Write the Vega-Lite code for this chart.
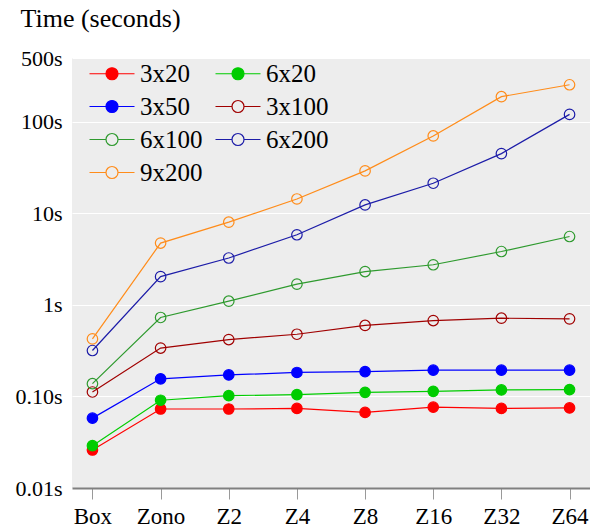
{
  "$schema": "https://vega.github.io/schema/vega-lite/v6.json",
  "width": 518,
  "height": 430,
  "autosize": "none",
  "padding": {"left": 72, "top": 58, "right": 0, "bottom": 43},
  "background": "white",
  "data": {
    "values": [
      {"config": "Box", "series": "3x20", "time": 0.026},
      {"config": "Zono", "series": "3x20", "time": 0.073},
      {"config": "Z2", "series": "3x20", "time": 0.073},
      {"config": "Z4", "series": "3x20", "time": 0.074},
      {"config": "Z8", "series": "3x20", "time": 0.067},
      {"config": "Z16", "series": "3x20", "time": 0.0765},
      {"config": "Z32", "series": "3x20", "time": 0.074},
      {"config": "Z64", "series": "3x20", "time": 0.075},
      {"config": "Box", "series": "6x20", "time": 0.029},
      {"config": "Zono", "series": "6x20", "time": 0.091},
      {"config": "Z2", "series": "6x20", "time": 0.102},
      {"config": "Z4", "series": "6x20", "time": 0.105},
      {"config": "Z8", "series": "6x20", "time": 0.111},
      {"config": "Z16", "series": "6x20", "time": 0.114},
      {"config": "Z32", "series": "6x20", "time": 0.118},
      {"config": "Z64", "series": "6x20", "time": 0.119},
      {"config": "Box", "series": "3x50", "time": 0.058},
      {"config": "Zono", "series": "3x50", "time": 0.156},
      {"config": "Z2", "series": "3x50", "time": 0.172},
      {"config": "Z4", "series": "3x50", "time": 0.183},
      {"config": "Z8", "series": "3x50", "time": 0.187},
      {"config": "Z16", "series": "3x50", "time": 0.194},
      {"config": "Z32", "series": "3x50", "time": 0.194},
      {"config": "Z64", "series": "3x50", "time": 0.194},
      {"config": "Box", "series": "3x100", "time": 0.112},
      {"config": "Zono", "series": "3x100", "time": 0.338},
      {"config": "Z2", "series": "3x100", "time": 0.419},
      {"config": "Z4", "series": "3x100", "time": 0.479},
      {"config": "Z8", "series": "3x100", "time": 0.598},
      {"config": "Z16", "series": "3x100", "time": 0.676},
      {"config": "Z32", "series": "3x100", "time": 0.717},
      {"config": "Z64", "series": "3x100", "time": 0.705},
      {"config": "Box", "series": "6x100", "time": 0.138},
      {"config": "Zono", "series": "6x100", "time": 0.73},
      {"config": "Z2", "series": "6x100", "time": 1.1},
      {"config": "Z4", "series": "6x100", "time": 1.69},
      {"config": "Z8", "series": "6x100", "time": 2.32},
      {"config": "Z16", "series": "6x100", "time": 2.75},
      {"config": "Z32", "series": "6x100", "time": 3.84},
      {"config": "Z64", "series": "6x100", "time": 5.6},
      {"config": "Box", "series": "6x200", "time": 0.318},
      {"config": "Zono", "series": "6x200", "time": 2.04},
      {"config": "Z2", "series": "6x200", "time": 3.26},
      {"config": "Z4", "series": "6x200", "time": 5.85},
      {"config": "Z8", "series": "6x200", "time": 12.4},
      {"config": "Z16", "series": "6x200", "time": 21.4},
      {"config": "Z32", "series": "6x200", "time": 45.1},
      {"config": "Z64", "series": "6x200", "time": 121},
      {"config": "Box", "series": "9x200", "time": 0.426},
      {"config": "Zono", "series": "9x200", "time": 4.75},
      {"config": "Z2", "series": "9x200", "time": 8.03},
      {"config": "Z4", "series": "9x200", "time": 14.4},
      {"config": "Z8", "series": "9x200", "time": 29.2},
      {"config": "Z16", "series": "9x200", "time": 70.3},
      {"config": "Z32", "series": "9x200", "time": 189},
      {"config": "Z64", "series": "9x200", "time": 255}
    ]
  },
  "encoding": {
    "x": {
      "field": "config",
      "type": "ordinal",
      "sort": ["Box", "Zono", "Z2", "Z4", "Z8", "Z16", "Z32", "Z64"],
      "scale": {"type": "point", "padding": 0.3},
      "title": null,
      "axis": {
        "labelAngle": 0,
        "labelFontSize": 23,
        "labelPadding": 6,
        "domainColor": "#808080",
        "domainWidth": 2,
        "tickColor": "#999999",
        "tickSize": 11,
        "tickWidth": 1,
        "grid": false
      }
    },
    "y": {
      "field": "time",
      "type": "quantitative",
      "scale": {"type": "log", "domain": [0.01, 500]},
      "title": "Time (seconds)",
      "axis": {
        "values": [0.01, 0.1, 1, 10, 100, 500],
        "labelExpr": "datum.value < 0.05 ? '0.01s' : datum.value < 0.5 ? '0.10s' : format(datum.value, 'd') + 's'",
        "labelFontSize": 22,
        "labelPadding": 10,
        "domain": false,
        "ticks": false,
        "grid": true,
        "gridColor": "white",
        "gridWidth": 1,
        "titleAngle": 0,
        "titleAlign": "left",
        "titleBaseline": "alphabetic",
        "titleX": -52,
        "titleY": -32,
        "titleFontSize": 26,
        "titleFontWeight": "normal",
        "titleColor": "black"
      }
    },
    "stroke": {
      "field": "series",
      "type": "nominal",
      "scale": {
        "domain": ["3x20", "3x50", "6x100", "9x200", "6x20", "3x100", "6x200"],
        "range": ["#FF0000", "#0000FF", "#2E9A2E", "#FF8C1A", "#00CC00", "#A00000", "#1C1CA8"]
      },
      "legend": {
        "title": null,
        "orient": "none",
        "legendX": 15,
        "legendY": 3,
        "columns": 2,
        "symbolType": "M-1,0H0.65M1.85,0H3.5M0.65,0A0.6,0.6 0 1,1 1.85,0A0.6,0.6 0 1,1 0.65,0",
        "symbolSize": 400,
        "symbolStrokeWidth": 1.2,
        "labelOffset": 28,
        "labelFontSize": 25,
        "columnPadding": 10,
        "rowPadding": 7
      }
    }
  },
  "layer": [
    {
      "mark": {"type": "line", "strokeWidth": 1.2},
      "encoding": {"detail": {"field": "series"}}
    },
    {
      "mark": {"type": "point", "filled": false, "size": 110, "strokeWidth": 1.2, "opacity": 1},
      "encoding": {
        "fill": {
          "field": "series",
          "type": "nominal",
          "scale": {
            "domain": ["3x20", "3x50", "6x100", "9x200", "6x20", "3x100", "6x200"],
            "range": ["#FF0000", "#0000FF", "transparent", "transparent", "#00CC00", "transparent", "transparent"]
          },
          "legend": {
            "title": null,
            "orient": "none",
            "legendX": 15,
            "legendY": 3,
            "columns": 2,
            "symbolType": "M-1,0H0.65M1.85,0H3.5M0.65,0A0.6,0.6 0 1,1 1.85,0A0.6,0.6 0 1,1 0.65,0",
            "symbolSize": 400,
            "symbolStrokeWidth": 1.2,
            "labelOffset": 28,
            "labelFontSize": 25,
            "columnPadding": 10,
            "rowPadding": 7
          }
        }
      }
    }
  ],
  "config": {
    "font": "Liberation Serif, DejaVu Serif, serif",
    "view": {"fill": "#EDEDED", "stroke": null},
    "axis": {"labelColor": "black", "labelFont": "Liberation Serif, DejaVu Serif, serif", "titleFont": "Liberation Serif, DejaVu Serif, serif"},
    "legend": {"labelColor": "black", "labelFont": "Liberation Serif, DejaVu Serif, serif", "padding": 0, "symbolOpacity": 1}
  }
}
